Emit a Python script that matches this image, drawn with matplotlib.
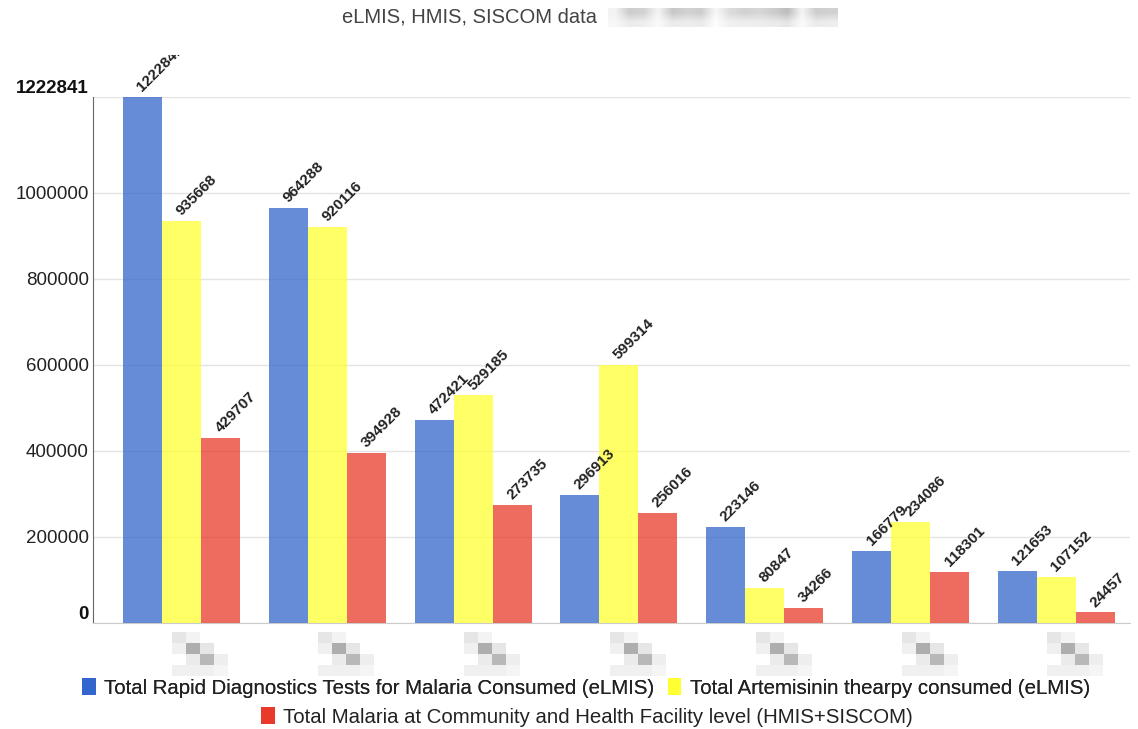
import numpy as np
import matplotlib.pyplot as plt
from matplotlib.patches import Patch
from matplotlib.transforms import Bbox, TransformedBbox

plt.rcParams['font.family'] = ['Liberation Sans', 'DejaVu Sans']

# consumption / case counts per region (7 regions, names not shown)
rdt_consumed = [1222841, 964288, 472421, 296913, 223146, 166779, 121653]
act_consumed = [935668, 920116, 529185, 599314, 80847, 234086, 107152]
malaria_cases = [429707, 394928, 273735, 256016, 34266, 118301, 24457]

series_names = [
    "Total Rapid Diagnostics Tests for Malaria Consumed (eLMIS)",
    "Total Artemisinin thearpy consumed (eLMIS)",
    "Total Malaria at Community and Health Facility level (HMIS+SISCOM)",
]
series_colors = ["#3366cc", "#ffff33", "#e8392a"]

y_ticks = [0, 200000, 400000, 600000, 800000, 1000000]

# pixelated placeholders for the region names
name_blur = np.array([
    [0.90, 0.95, 1.00, 1.00],
    [0.94, 0.68, 0.90, 1.00],
    [1.00, 0.92, 0.72, 0.93],
    [0.94, 0.94, 0.94, 0.96],
])
title_blur = np.array([
    [0.95, 0.80, 0.82, 0.96, 0.78, 0.82, 0.80, 0.97, 0.86, 0.82, 0.84, 0.80, 0.74, 0.96, 0.80, 0.82],
    [0.97, 0.92, 0.93, 0.98, 0.92, 0.93, 0.92, 0.99, 0.94, 0.93, 0.93, 0.92, 0.90, 0.98, 0.92, 0.93],
])

fig = plt.figure(figsize=(11.38, 7.29), dpi=100)
ax = fig.add_axes([0.0817, 0.1454, 0.9112, 0.7215])

x = np.arange(len(rdt_consumed))
width = 0.2675
all_series = [rdt_consumed, act_consumed, malaria_cases]
ymax = max(max(s) for s in all_series)

label_clip = TransformedBbox(Bbox([[0, 0], [1, 0.925]]), fig.transFigure)

for k, (vals, color) in enumerate(zip(all_series, series_colors)):
    pos = x + (k - 1) * width
    ax.bar(pos, vals, width, color=color, alpha=0.75, zorder=3, linewidth=0)
    for xi, v in zip(pos, vals):
        t = ax.annotate(str(v), (xi, v), xytext=(0, 3.5), textcoords="offset points",
                        rotation=45, rotation_mode="anchor", ha="left", va="baseline",
                        fontsize=11, fontweight="bold", color="#222222",
                        annotation_clip=False, zorder=4)
        t.set_clip_on(True)
        t.set_clip_box(label_clip)

# blurred region names under each group
for xi in x:
    ax.imshow(name_blur, cmap="gray", vmin=0, vmax=1, interpolation="nearest",
              extent=[xi - 0.062, xi + 0.322, -123000, -21000],
              aspect="auto", clip_on=False, zorder=2)

ax.set_xlim(-0.607, 6.504)
ax.set_ylim(0, ymax)
ax.set_xticks([])

ticks = y_ticks + [ymax]
ax.set_yticks(ticks)
ax.set_yticklabels([str(t) for t in ticks])
ax.tick_params(axis="y", length=0, pad=3, labelsize=13.5, labelcolor="#222222")
for lbl in (ax.get_yticklabels()[0], ax.get_yticklabels()[-1]):
    lbl.set_fontweight("bold")
    lbl.set_va("bottom")
    lbl.set_color("#111111")

ax.grid(axis="y", color="#e4e4e4", linewidth=1, zorder=0)
for s in ("top", "right"):
    ax.spines[s].set_visible(False)
ax.spines["left"].set_color("#666666")
ax.spines["bottom"].set_color("#cccccc")

# title
fig.text(469 / 1138, 1 - 17 / 729, "eLMIS, HMIS, SISCOM data", ha="center", va="center",
         fontsize=14.5, color="#444444")
tax = fig.add_axes([608 / 1138, 1 - 27 / 729, 230 / 1138, 19 / 729])
tax.imshow(title_blur, cmap="gray", vmin=0, vmax=1, interpolation="bilinear", aspect="auto")
tax.axis("off")

handles = [Patch(facecolor=c, edgecolor="none") for c in series_colors]
leg_kw = dict(frameon=False, fontsize=14.7, handlelength=0.65, handleheight=0.9,
              handletextpad=0.4, columnspacing=0.7, borderpad=0, loc="center",
              labelcolor="#222222")
leg1 = fig.legend(handles[:2], series_names[:2], ncol=2,
                  bbox_to_anchor=(586 / 1138, 1 - 688 / 729), **leg_kw)
fig.add_artist(leg1)
fig.legend(handles[2:], series_names[2:], ncol=1,
           bbox_to_anchor=(587 / 1138, 1 - 717 / 729), **leg_kw)

fig.savefig("out.png", dpi=100)
